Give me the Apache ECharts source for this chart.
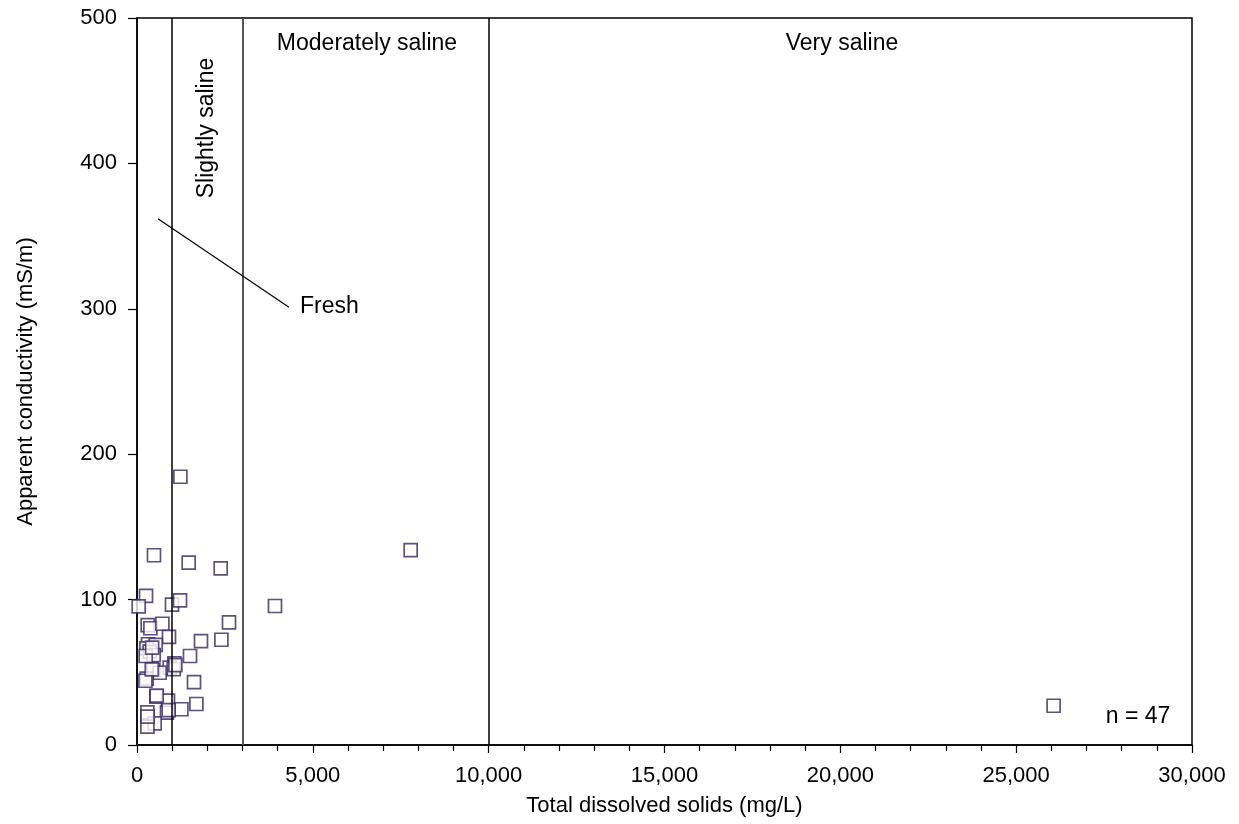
<!DOCTYPE html>
<html>
<head>
<meta charset="utf-8">
<script src="https://cdn.jsdelivr.net/npm/echarts@6/dist/echarts.min.js"></script>
<style>html,body{margin:0;padding:0;background:#fff}#c{width:1239px;height:824px}</style>
</head>
<body>
<div id="c"></div>
<script>
// Total dissolved solids (mg/L)
const tds = [1234, 483, 1470, 2380, 256, 48, 995, 1223, 3924, 304,
             381, 722, 2616, 910, 1820, 2400, 313, 532, 267, 361,
             475, 247, 1507, 1063, 930, 1044, 466, 645, 276, 239,
             1621, 551, 881, 1689, 1262, 853, 296, 503, 296, 7782,
             26065, 300, 430, 560, 900, 420, 1090];
// Apparent conductivity (mS/m)
const cond = [184.5, 130.5, 125.4, 121.5, 102.5, 95.4, 96.5, 99.5, 95.6, 82.5,
              80.3, 83.4, 84.4, 74.3, 71.5, 72.4, 69.3, 68.8, 66.5, 64.2,
              61.9, 61.2, 61.2, 56.2, 53.2, 52.1, 51.6, 49.7, 45.6, 44.2,
              43.3, 33.2, 30.5, 28.2, 24.6, 22.2, 22.5, 14.9, 12.6, 134,
              27.0, 19.5, 67, 34, 24, 52, 55];
const boundaries = [1000, 3000, 10000];
const freshLeader = [[597, 362], [4322, 301]];
const xTickLabels = ['0', '5,000', '10,000', '15,000', '20,000', '25,000', '30,000'];

const points = tds.map((v, i) => [v, cond[i]]);
const font = 'Liberation Sans, Arial, sans-serif';

const chart = echarts.init(document.getElementById('c'));
chart.setOption({
  animation: false,
  grid: {left: 137, right: 47, top: 18, bottom: 79, show: true, borderColor: '#000', borderWidth: 1.5},
  xAxis: {
    type: 'value', min: 0, max: 30000, interval: 5000,
    name: 'Total dissolved solids (mg/L)', nameLocation: 'middle', nameGap: 50,
    nameTextStyle: {fontFamily: font, fontSize: 22, color: '#000'},
    axisLine: {lineStyle: {color: '#000', width: 1.5}},
    axisTick: {length: 8, lineStyle: {color: '#000', width: 1.2}},
    minorTick: {show: true, splitNumber: 5, length: 6, lineStyle: {color: '#000', width: 1.2}},
    axisLabel: {
      fontFamily: font, fontSize: 22, color: '#000', margin: 20,
      formatter: v => xTickLabels[Math.round(v / 5000)]
    },
    splitLine: {show: false}
  },
  yAxis: {
    type: 'value', min: 0, max: 500, interval: 100,
    name: 'Apparent conductivity (mS/m)', nameLocation: 'middle', nameGap: 100,
    nameTextStyle: {fontFamily: font, fontSize: 22, color: '#000'},
    axisLine: {lineStyle: {color: '#000', width: 1.5}},
    axisTick: {length: 9, lineStyle: {color: '#000', width: 1.2}},
    axisLabel: {fontFamily: font, fontSize: 22, color: '#000', margin: 20},
    splitLine: {show: false}
  },
  series: [{
    type: 'scatter',
    data: points,
    symbol: 'rect', symbolSize: 13,
    itemStyle: {color: '#fff', borderColor: '#36255f', borderWidth: 1.7},
    markLine: {
      silent: true, symbol: 'none', label: {show: false},
      lineStyle: {color: '#000', width: 1.5, type: 'solid'},
      data: boundaries.map(b => ({xAxis: b, lineStyle: {color: b === 3000 ? '#555' : '#000', width: b === 3000 ? 2 : 1.5}}))
        .concat([[{coord: freshLeader[0]}, {coord: freshLeader[1], lineStyle: {width: 1.2}}]])
    }
  }],
  graphic: [
    {type: 'text', left: 300, top: 295, style: {text: 'Fresh', font: '23px ' + font, fill: '#000'}},
    {type: 'text', x: 207, y: 128, rotation: Math.PI / 2, style: {text: 'Slightly saline', font: '23px ' + font, fill: '#000', align: 'center', verticalAlign: 'middle'}},
    {type: 'text', x: 367, y: 44, style: {text: 'Moderately saline', font: '23px ' + font, fill: '#000', align: 'center', verticalAlign: 'middle'}},
    {type: 'text', x: 842, y: 44, style: {text: 'Very saline', font: '23px ' + font, fill: '#000', align: 'center', verticalAlign: 'middle'}},
    {type: 'text', x: 1138, y: 717, style: {text: 'n = 47', font: '23px ' + font, fill: '#000', align: 'center', verticalAlign: 'middle'}}
  ]
});
</script>
</body>
</html>
